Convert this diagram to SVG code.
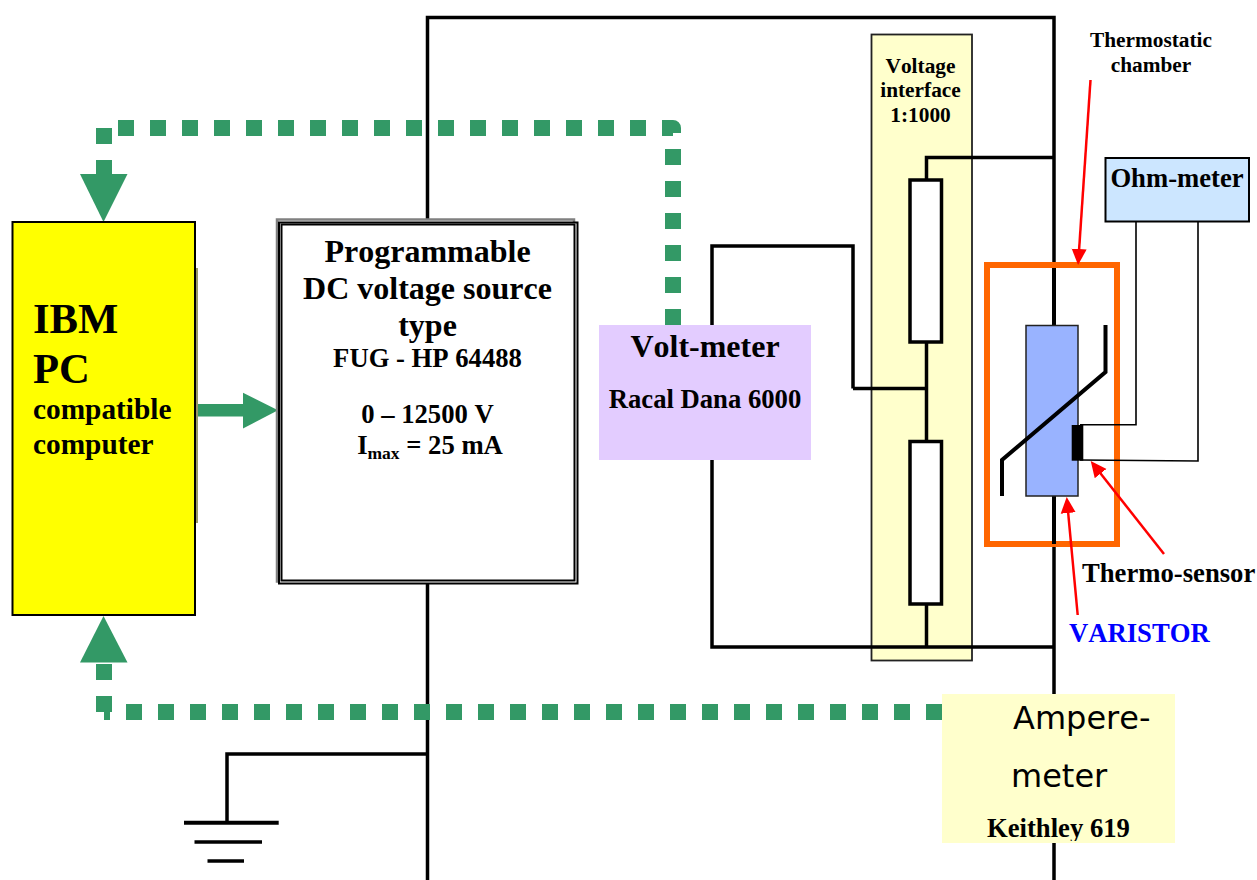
<svg xmlns="http://www.w3.org/2000/svg" width="1257" height="880" viewBox="0 0 1257 880">
<style>
text{font-family:"Liberation Serif","Times New Roman",serif;font-weight:bold;fill:#000;font-kerning:none}
.c{text-anchor:middle}
.w{fill:none;stroke:#000;stroke-width:3.5;stroke-linejoin:miter}
.t{fill:none;stroke:#000;stroke-width:1.6}
.g{fill:none;stroke:#339966;stroke-width:16;stroke-dasharray:16 16}
.gf{fill:#339966}
.r{fill:none;stroke:#ff0000;stroke-width:2.5;marker-end:url(#ra)}
.res{fill:#fff;stroke:#000;stroke-width:3.5}
.s26{font-size:26.67px}
.s21{font-size:21.33px}
.s32{font-size:32px}
.s42{font-size:42.67px}
.s29{font-size:29.33px}
</style>
<defs>
<marker id="ra" markerUnits="userSpaceOnUse" markerWidth="16" markerHeight="16" refX="2" refY="8" orient="auto"><path d="M0 0.5L16 8L0 15.5z" fill="#ff0000"/></marker>
<clipPath id="kc"><rect x="942" y="694" width="233" height="147"/></clipPath>
</defs>
<rect width="1257" height="880" fill="#fff"/>
<g id="voltage-interface">
<rect x="871.5" y="34.5" width="100.500" height="626" fill="#ffffcc" stroke="#222" stroke-width="1.800"/>
<text class="c s21" x="920.500" y="73">Voltage</text>
<text class="c s21" x="920.500" y="97">interface</text>
<text class="c s21" x="920.500" y="122">1:1000</text>
</g>
<g id="connectors">
<path class="w" d="M427.500 880V17.500H1054V880"/>
<path class="w" d="M1054 157.500H926.500V180"/>
<path class="w" d="M926.500 342V441"/>
<path class="w" d="M926.500 604V647"/>
<path class="w" d="M853 388.500H926.500"/>
<path class="w" d="M1054 647H712V246H853V388.500"/>
<path class="w" d="M427.500 754H227V822"/>
<path class="g" style="stroke-linejoin:round" d="M673 325V128H118"/>
<path class="g" d="M104 128V176"/>
<path class="g" d="M942 712H126"/>
<path class="g" d="M104 712V664"/>
<path d="M110 716H104" fill="none" stroke="#339966" stroke-width="8"/>
<polygon class="gf" points="80,174 127.500,174 103.500,222"/>
<polygon class="gf" points="80,662.500 127.500,662.500 103.500,616"/>
<path d="M197 410.300H244" fill="none" stroke="#339966" stroke-width="12.500"/>
<polygon class="gf" points="243,392.700 278,410.300 243,428.500"/>
</g>
<g id="ground">
<path d="M184 822.700H278.700" fill="none" stroke="#000" stroke-width="4"/>
<path d="M194.500 842H262" fill="none" stroke="#000" stroke-width="3.500"/>
<path d="M207.500 861H244" fill="none" stroke="#000" stroke-width="3.500"/>
</g>
<g id="computer">
<rect x="195" y="268" width="3" height="255" fill="#999966"/>
<rect x="12.500" y="222" width="182.500" height="393" fill="#ffff00" stroke="#000" stroke-width="2"/>
<text class="s42" x="33" y="333">IBM</text>
<text class="s42" x="33" y="383">PC</text>
<text class="s29" x="33" y="419">compatible</text>
<text class="s29" x="33" y="454">computer</text>
</g>
<g id="voltage-source">
<rect x="277" y="219.500" width="297" height="362" fill="#fff" stroke="#808080" stroke-width="2.500"/>
<rect x="279" y="222.500" width="298.500" height="361" fill="#fff" stroke="#000" stroke-width="2"/>
<rect x="281.500" y="224.500" width="293" height="356" fill="#fff" stroke="#000" stroke-width="2"/>
<text class="c s32" x="427.500" y="262">Programmable</text>
<text class="c s32" x="427.500" y="299">DC voltage source</text>
<text class="c s32" x="427.500" y="336">type</text>
<text class="c s26" x="427.500" y="367">FUG - HP 64488</text>
<text class="c s26" x="427.500" y="423">0 – 12500 V</text>
<text class="c s26" x="430" y="454">I<tspan font-size="17.500" dy="5">max</tspan><tspan dy="-5"> = 25 mA</tspan></text>
</g>
<g id="volt-meter">
<rect x="599" y="325" width="212" height="135" fill="#e3ccff"/>
<text class="c s32" x="705" y="357">Volt-meter</text>
<text class="c s26" x="705" y="408">Racal Dana 6000</text>
</g>
<g id="resistor-1"><rect class="res" x="910" y="180" width="31.500" height="162"/></g>
<g id="resistor-2"><rect class="res" x="910" y="441.500" width="31.500" height="162.500"/></g>
<g id="chamber"><rect x="987" y="265" width="130" height="279" fill="none" stroke="#ff6600" stroke-width="6"/></g>
<g id="varistor">
<path d="M1054 268V325M1054 496V544" fill="none" stroke="#000" stroke-width="4"/>
<rect x="1026" y="325.500" width="52" height="170.500" fill="#99b3ff" stroke="#222" stroke-width="1.500"/>
<path d="M1002 496V460L1105.500 372V325" fill="none" stroke="#000" stroke-width="4"/>
</g>
<g id="ohm-meter">
<rect x="1105.500" y="158" width="143.500" height="63.500" fill="#cce6ff" stroke="#000" stroke-width="2"/>
<text class="c s26" x="1177" y="187">Ohm-meter</text>
</g>
<g id="sensor-connectors">
<path class="t" d="M1080 424.700H1136V222"/>
<path class="t" d="M1080 460L1198 461V222"/>
<path class="r" d="M1090.500 80L1079 251"/>
<path class="r" d="M1077.700 615L1068 511"/>
<path class="r" d="M1164 554L1099.400 472"/>
</g>
<g id="thermo-sensor"><rect x="1071.700" y="425" width="11.600" height="35.700" fill="#000"/></g>
<g id="ampere-meter">
<rect x="942" y="694" width="233" height="149" fill="#ffffcc"/>
<text x="1013" y="729" style="font-family:'DejaVu Sans',sans-serif;font-weight:normal;font-size:32px">Ampere-</text>
<text x="1011" y="787" style="font-family:'DejaVu Sans',sans-serif;font-weight:normal;font-size:32px">meter</text>
<text class="s26" x="987" y="837" clip-path="url(#kc)">Keithley 619</text>
</g>
<g id="labels">
<text class="c s21" x="1151" y="47">Thermostatic</text>
<text class="c s21" x="1151" y="72">chamber</text>
<text class="s26" x="1082" y="582">Thermo-sensor</text>
<text class="s26" x="1069" y="642" style="fill:#0000ff">VARISTOR</text>
</g>
</svg>
